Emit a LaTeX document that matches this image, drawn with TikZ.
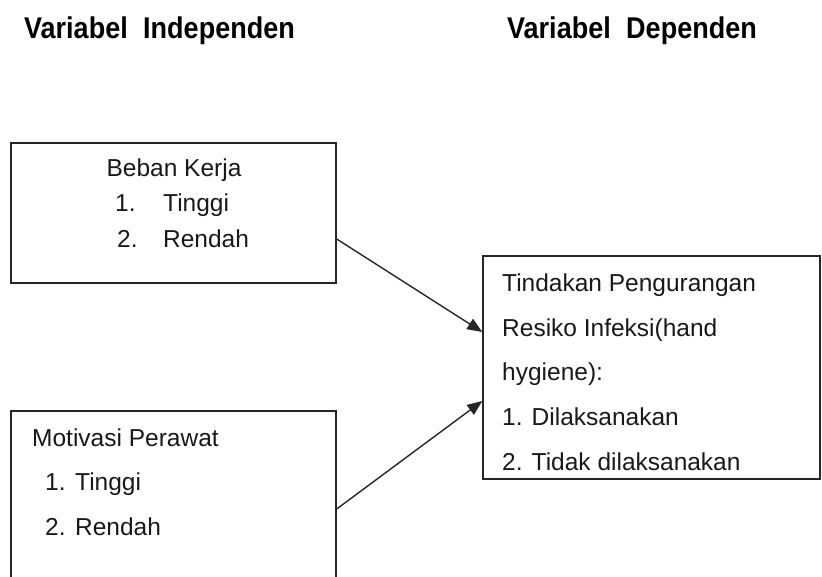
\documentclass[tikz,border=0pt]{standalone}
\usepackage{fontspec}
\setmainfont{Liberation Sans}
\newfontfamily\titlefont[FakeStretch=0.9]{Liberation Sans}
\usetikzlibrary{arrows.meta}
\begin{document}
\begin{tikzpicture}[x=1pt,y=-1pt,
  box/.style={draw=black!85,line width=1.4pt,inner sep=0pt},
  txt/.style={anchor=base west,inner sep=0pt,font=\fontsize{24.5}{28}\selectfont,text=black!90},
  ttl/.style={anchor=base west,inner sep=0pt,font=\titlefont\fontsize{30}{34}\selectfont\bfseries},
  conn/.style={draw=black!85,line width=1.4pt,-{Triangle[length=15pt,width=12pt]}}]
\useasboundingbox (0,0) rectangle (822,577);
\begin{scope}
\clip (0,0) rectangle (822,577);
% titles
\node[ttl] (t1) at (24,38.3) {Variabel\hspace{8pt} Independen};
\node[ttl] (t2) at (507,38.3) {Variabel\hspace{8pt} Dependen};
% boxes
\node[box,minimum width=325pt,minimum height=140pt] (b1) at (173.5,213) {};
\node[box,minimum width=325pt,minimum height=189pt] (b2) at (173.5,505.5) {};
\node[box,minimum width=337pt,minimum height=223pt] (b3) at (651.5,367.5) {};
% top box text
\node[txt,anchor=base] (b1a) at (174,177) {Beban Kerja};
\node[txt] (b1b) at (115,212) {\makebox[48pt][l]{1.}Tinggi};
\node[txt] (b1c) at (117,248) {\makebox[46pt][l]{2.}Rendah};
% bottom box text
\node[txt] (b2a) at (32,446) {Motivasi Perawat};
\node[txt] (b2b) at (45,490) {\makebox[30pt][l]{1.}Tinggi};
\node[txt] (b2c) at (45,535) {\makebox[30pt][l]{2.}Rendah};
% right box text
\node[txt] (b3a) at (502,292) {Tindakan Pengurangan};
\node[txt] (b3b) at (502,337) {Resiko Infeksi(hand};
\node[txt] (b3c) at (502,381) {hygiene):};
\node[txt] (b3d) at (502,425) {1. Dilaksanakan};
\node[txt] (b3e) at (502,470) {2. Tidak dilaksanakan};
% connectors
\draw[conn] ([yshift=-26pt]b1.east) -- ([yshift=35.5pt]b3.west);
\draw[conn] ([yshift=-3.5pt]b2.east) -- ([yshift=-33.5pt]b3.west);
\end{scope}
\end{tikzpicture}
\end{document}
